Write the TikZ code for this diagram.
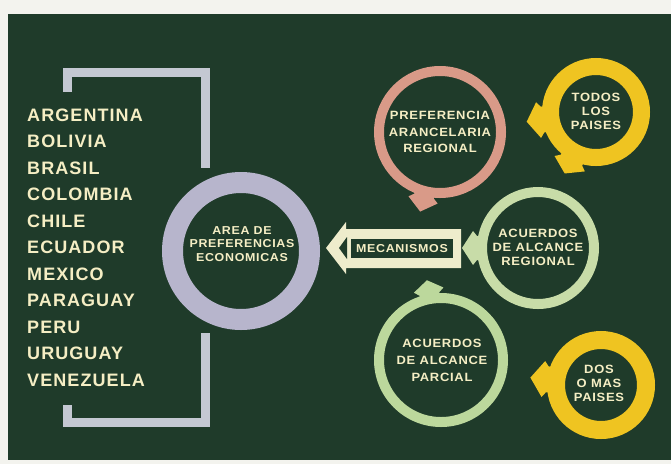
\documentclass[tikz,border=0pt]{standalone}
\usepackage{fontspec}
\setmainfont{Liberation Sans}
\newfontfamily\cfont{Liberation Sans}[LetterSpace=6]
\newfontfamily\lfont{Liberation Sans}[LetterSpace=6,FakeStretch=1.08]
\usetikzlibrary{calc}
\definecolor{bg}{HTML}{1F3B2A}
\definecolor{paper}{HTML}{F3F3EE}
\definecolor{cream}{HTML}{F5EEC4}
\definecolor{brk}{HTML}{C4C8D2}
\definecolor{ringA}{HTML}{B7B5CC}
\definecolor{pinkr}{HTML}{D99A88}
\definecolor{yel}{HTML}{EFC421}
\definecolor{grnA}{HTML}{C8DCA8}
\definecolor{grnB}{HTML}{BCD89C}
\definecolor{arrc}{HTML}{EEECCC}
\newcommand\ringhead[6]{% center, angle, R, L, W, colour
  \begin{scope}[shift={(#1)},rotate=-#2]
    \fill[#6] (#3+#4,0) -- (#3+4,#5) -- (#3,#5-5) -- (#3-5,#5-5) -- (#3-5,-#5+5) -- (#3,-#5+5) -- (#3+4,-#5) -- cycle;
  \end{scope}}
\begin{document}
\begin{tikzpicture}[x=1pt,y=-1pt,
  country/.style={anchor=west,text=cream,font=\cfont\bfseries\fontsize{18}{20}\selectfont,inner sep=0pt},
  lbl/.style={align=center,text=cream,font=\lfont\bfseries\fontsize{12}{14}\selectfont,inner sep=0pt},
  bracket/.style={draw=brk,line width=9pt,line join=miter,line cap=butt}]
\useasboundingbox (0,0) rectangle (671,464);
\fill[paper] (0,0) rectangle (671,464);
\fill[bg] (8,14) rectangle (671,460);
% countries
\foreach \n/\t [count=\i from 0] in {arg/ARGENTINA,bol/BOLIVIA,bra/BRASIL,col/COLOMBIA,chi/CHILE,ecu/ECUADOR,mex/MEXICO,par/PARAGUAY,per/PERU,uru/URUGUAY,ven/VENEZUELA}
  \node[country] (\n) at (27,{115+26.5*\i}) {\t};
% bracket
\coordinate (bt1) at (67,92);
\coordinate (bt2) at (67,72.5);
\coordinate (bt3) at (205,72.5);
\coordinate (bt4) at (205,168);
\coordinate (bb1) at (205,333);
\coordinate (bb2) at (205,422);
\coordinate (bb3) at (67,422);
\coordinate (bb4) at (67,405);
\draw[bracket] (bt1) -- (bt2) -- (bt3) -- (bt4);
\draw[bracket] (bb1) -- (bb2) -- (bb3) -- (bb4);
% central ring
\node[lbl,font=\lfont\bfseries\fontsize{11.5}{13.5}\selectfont] (area) at (242,244) {AREA DE\\PREFERENCIAS\\ECONOMICAS};
\draw[ringA,line width=21pt] (241,251) circle[radius=68.5pt];
% mecanismos arrow
\fill[arrc] (326,248) -- (346,222) -- (346,229) -- (461,229) -- (461,268) -- (346,268) -- (346,274) -- cycle;
\fill[bg] (351,239) rectangle (453,258);
\fill[bg] (339,248) -- (347,237) -- (347,259) -- cycle;
\node[lbl,font=\lfont\bfseries\fontsize{11.5}{13}\selectfont] (mec) at (402,249) {MECANISMOS};
% pink ring
\node[lbl,font=\lfont\bfseries\fontsize{12}{16.5}\selectfont] (pref) at (440,132) {PREFERENCIA\\ARANCELARIA\\REGIONAL};
\draw[pinkr,line width=10pt] (440,132) circle[radius=61pt];
\ringhead{440,132}{104}{66}{16}{15}{pinkr}
% todos
\node[lbl] (todos) at (596,111) {TODOS\\LOS\\PAISES};
\draw[yel,line width=17pt] (596,112) circle[radius=45.5pt];
\ringhead{596,112}{172}{54}{16}{18}{yel}
\ringhead{596,112}{117}{54}{15}{17}{yel}
% regional
\node[lbl] (reg) at (538,247) {ACUERDOS\\DE ALCANCE\\REGIONAL};
\draw[grnA,line width=10pt] (538,248) circle[radius=56pt];
\ringhead{538,248}{180}{61}{15}{17}{grnA}
% parcial
\node[lbl,font=\lfont\bfseries\fontsize{12}{17}\selectfont] (parc) at (442,360) {ACUERDOS\\DE ALCANCE\\PARCIAL};
\draw[grnB,line width=10pt] (441,360) circle[radius=62pt];
\ringhead{441,360}{260}{67}{14}{15}{grnB}
% dos
\node[lbl] (dos) at (599,383) {DOS\\O MAS\\PAISES};
\draw[yel,line width=18pt] (601,385) circle[radius=45pt];
\ringhead{601,385}{186}{54}{17}{18}{yel}
\end{tikzpicture}
\end{document}
